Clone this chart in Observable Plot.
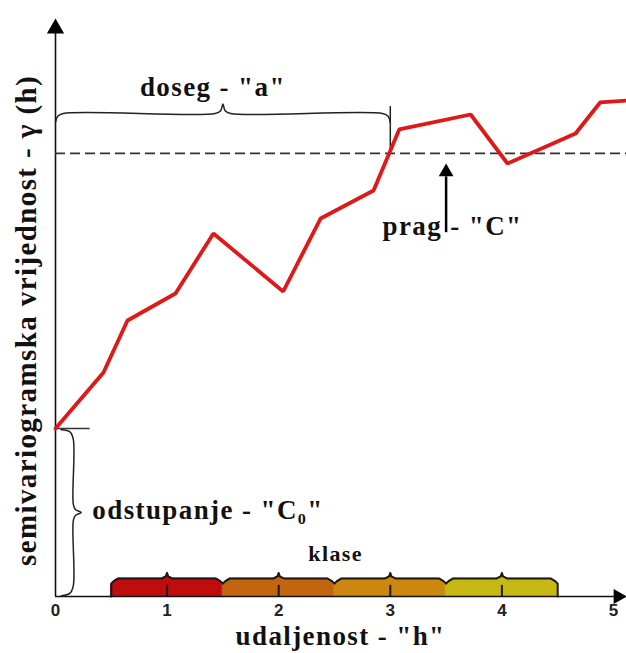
<!DOCTYPE html>
<html><head><meta charset="utf-8">
<script src="https://cdn.jsdelivr.net/npm/d3@7"></script>
<script src="https://cdn.jsdelivr.net/npm/@observablehq/plot@0.6"></script>
<style>
body{margin:0;background:#fff;}
g[aria-label="text"] text{letter-spacing:1.4px;}
</style>
</head><body><div id="chart"></div>
<script>
const lagX = [0, 0.43, 0.645, 1.075, 1.415, 2.04, 2.375, 2.85, 3.08, 3.72, 4.05, 4.66, 4.88, 5.12];
const gammaY = [1.505, 2.007, 2.473, 2.715, 3.253, 2.733, 3.387, 3.638, 4.185, 4.319, 3.88, 4.149, 4.427, 4.444];
const nugget = 1.505;   // C0
const sill = 3.97;      // C
const range = 3;        // a
const classStarts = [0.5, 1.5, 2.5, 3.5];
const classEnds = [1.5, 2.5, 3.5, 4.5];
const classColors = ["#c00c0c", "#c3640f", "#cc870f", "#c7b814"];
const xTicks = [0, 1, 2, 3, 4, 5];
const labelRange = "doseg - \"a\"";
const labelSill = "prag - \"C\"";
const labelNugget = "odstupanje - \"C\u2080\"";
const labelClasses = "klase";
const labelX = "udaljenost - \"h\"";
const labelY = "semivariogramska vrijednost - \u03b3 (h)";

const pts = lagX.map((x, i) => ({x, y: gammaY[i]}));

// class bars: brace-like top profile
const topY = 0.161, bumpY = 0.21, notchY = 0.115;
const bars = classStarts.flatMap((a, i) => {
  const b = classEnds[i], m = (a + b) / 2, c = classColors[i];
  return [
    [a, notchY], [a + 0.02, topY - 0.025], [a + 0.06, topY], [m - 0.05, topY],
    [m - 0.01, topY + 0.02], [m, bumpY], [m + 0.01, topY + 0.02], [m + 0.05, topY],
    [b - 0.06, topY], [b - 0.02, topY - 0.025], [b, notchY]
  ].map(([x, y]) => ({x, y, c}));
});
const outline = [{x: classStarts[0], y: 0}, ...bars, {x: classEnds[classEnds.length - 1], y: 0}];

// horizontal brace over [0, range]
const by = 4.328, bx0 = 0, bx1 = range, bm = (bx0 + bx1) / 2;
const braceH = [
  [bx0, by - 0.08], [bx0 + 0.02, by - 0.025], [bx0 + 0.07, by], [bm - 0.07, by],
  [bm - 0.02, by + 0.025], [bm, by + 0.085], [bm + 0.02, by + 0.025], [bm + 0.07, by],
  [bx1 - 0.07, by], [bx1 - 0.02, by - 0.025], [bx1, by - 0.08]
].map(([x, y]) => ({x, y}));

// vertical brace over [0, nugget]
const vx = 0.16, ve = 0.05, vt = 0.23, vm = nugget / 2;
const braceV = [
  [ve, nugget - 0.01], [vx - 0.03, nugget - 0.03], [vx, nugget - 0.1], [vx, vm + 0.07],
  [vx + 0.02, vm + 0.025], [vt, vm], [vx + 0.02, vm - 0.025], [vx, vm - 0.07],
  [vx, 0.1], [vx - 0.03, 0.03], [ve, 0.005]
].map(([x, y]) => ({x, y}));

const serif = "'Liberation Serif', 'Times New Roman', serif";
const ink = "#111";

const chart = Plot.plot({
  width: 626, height: 653,
  marginLeft: 55, marginRight: 13, marginTop: 38, marginBottom: 57,
  x: {domain: [0, 5]},
  y: {domain: [0, 5], axis: null},
  style: {background: "#fff", overflow: "visible"},
  marks: [
    // class bars (no stacking: explicit baseline)
    Plot.areaY(bars, {x: "x", y1: 0, y2: "y", z: "c", fill: "c", stroke: "c", strokeWidth: 0.8, strokeLinejoin: "round", curve: "linear"}),
    Plot.line(outline, {x: "x", y: "y", stroke: "#1a1a1a", strokeWidth: 2, strokeLinejoin: "round", curve: "linear"}),
    Plot.ruleX(xTicks.filter(t => t > 0 && t < 5), {y1: 0, y2: 0.1, stroke: "#1a1a1a", strokeWidth: 2}),
    // axes
    Plot.ruleY([0], {x1: 0, x2: 5.05, stroke: "#111", strokeWidth: 1.6}),
    Plot.ruleX([0], {y1: 0, y2: 5.1, stroke: "#111", strokeWidth: 1.6}),
    Plot.dot([{x: 0, y: 5.09}], {x: "x", y: "y", symbol: "triangle", r: 6.4, fill: "#000", stroke: null}),
    Plot.dot([{x: 5.04, y: 0}], {x: "x", y: "y", symbol: "triangle", r: 5.6, fill: "#000", stroke: null, rotate: 90}),
    Plot.axisX({ticks: xTicks, tickSize: 0, tickPadding: 7, fontSize: 17, fontWeight: "bold",
      fontFamily: "'Liberation Sans', Arial, sans-serif", fill: "#222", label: null, tickFormat: d => String(d)}),
    // sill
    Plot.ruleY([sill], {x1: 0, x2: 5.12, stroke: "#333", strokeWidth: 1.8, strokeDasharray: "10,5"}),
    // range brace + marker
    Plot.line(braceH, {x: "x", y: "y", stroke: "#222", strokeWidth: 1.5, curve: "catmull-rom"}),
    Plot.ruleX([range], {y1: sill, y2: 4.39, stroke: "#222", strokeWidth: 1.5}),
    // nugget brace + marker
    Plot.ruleY([nugget], {x1: 0, x2: 0.31, stroke: "#333", strokeWidth: 1.5}),
    Plot.line(braceV, {x: "x", y: "y", stroke: "#222", strokeWidth: 1.5, curve: "catmull-rom"}),
    // semivariogram
    Plot.line(pts, {x: "x", y: "y", stroke: "#e01818", strokeWidth: 3.8, strokeLinejoin: "miter"}),
    // sill arrow
    Plot.ruleX([3.5], {y1: 3.26, y2: 3.76, stroke: "#000", strokeWidth: 2.5}),
    Plot.dot([{x: 3.5, y: 3.803}], {x: "x", y: "y", symbol: "triangle", r: 5.5, fill: "#000", stroke: null}),
    // labels
    Plot.text([labelRange], {x: 1.41, y: 4.566, text: d => d, fontSize: 27, fontWeight: "bold", fontFamily: serif, fill: ink}),
    Plot.text([labelSill], {x: 2.93, y: 3.32, text: d => d, textAnchor: "start", fontSize: 27, fontWeight: "bold", fontFamily: serif, fill: ink}),
    Plot.text([labelNugget], {x: 0.33, y: 0.776, text: d => d, textAnchor: "start", fontSize: 27, fontWeight: "bold", fontFamily: serif, fill: ink}),
    Plot.text([labelClasses], {x: 2.51, y: 0.38, text: d => d, fontSize: 22, fontWeight: "bold", fontFamily: serif, fill: ink}),
    Plot.text([labelX], {x: 2.554, y: -0.36, text: d => d, fontSize: 27, fontWeight: "bold", fontFamily: serif, fill: ink}),
    Plot.text([labelY], {x: -0.26, y: 2.473, text: d => d, rotate: -90, fontSize: 29, fontWeight: "bold", fontFamily: serif, fill: ink})
  ]
});
document.getElementById("chart").appendChild(chart);
</script>
</body></html>
